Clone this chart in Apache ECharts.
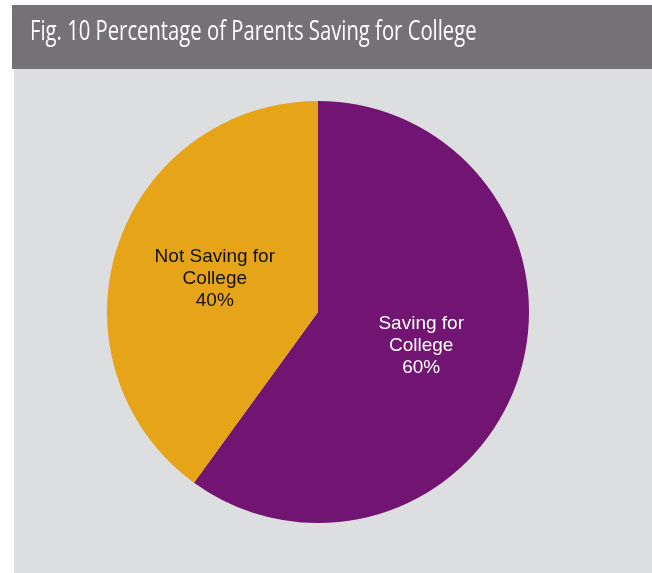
<!DOCTYPE html>
<html>
<head>
<meta charset="utf-8">
<script src="https://cdn.jsdelivr.net/npm/echarts@6/dist/echarts.min.js"></script>
<style>
  html, body { margin: 0; padding: 0; background: #fff; }
  #main { width: 652px; height: 573px; }
</style>
</head>
<body>
<div id="main"></div>
<script>
// data
var names = ['Saving for\nCollege', 'Not Saving for\nCollege'];
var values = [60, 40];
var colors = ['#721472', '#e6a518'];
var labelColors = ['#ffffff', '#111111'];

var chart = echarts.init(document.getElementById('main'));

var pieData = [];
for (var i = 0; i < names.length; i++) {
  pieData.push({
    name: names[i],
    value: values[i],
    itemStyle: { color: colors[i] },
    label: { color: labelColors[i] }
  });
}

var option = {
  backgroundColor: '#ffffff',
  animation: false,
  graphic: [
    { type: 'rect', left: 12, top: 5, shape: { width: 640, height: 64 }, style: { fill: '#747276' } },
    { type: 'rect', left: 14, top: 69, shape: { width: 638, height: 504 }, style: { fill: '#dddee0' } },
    // title is a condensed face in the original, squeeze it horizontally
    { type: 'text', x: 30, y: 19, scaleX: 0.75,
      style: { text: 'Fig. 10 Percentage of Parents Saving for College', fill: '#ffffff',
               font: '27px "Open Sans", sans-serif' } }
  ],
  series: [{
    type: 'pie',
    center: [318, 312],
    radius: [0, 211],
    startAngle: 90,
    clockwise: true,
    label: {
      show: true,
      position: 'inside',
      formatter: '{b}\n{c}%',
      fontFamily: '"Liberation Sans", Arial, sans-serif',
      fontSize: 19,
      lineHeight: 22,
      align: 'center'
    },
    labelLine: { show: false },
    emphasis: { disabled: true },
    data: pieData
  }]
};

chart.setOption(option);
</script>
</body>
</html>
